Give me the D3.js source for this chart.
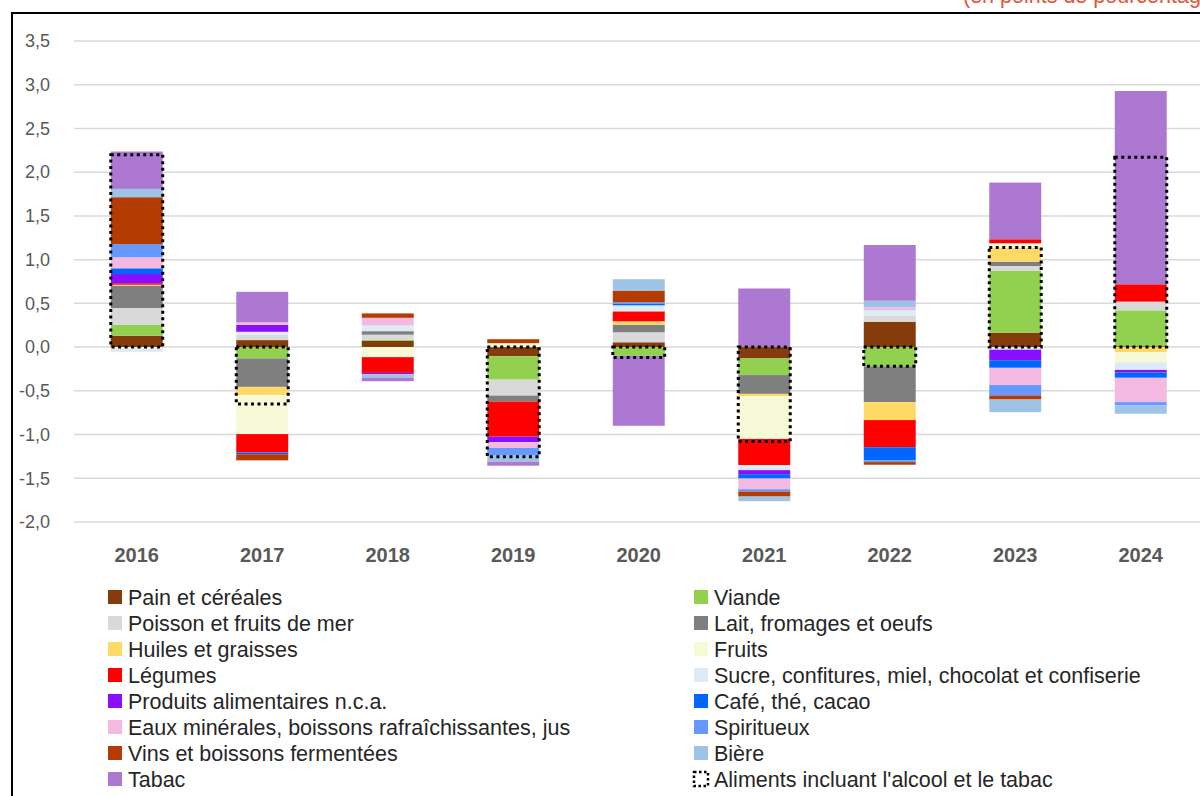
<!DOCTYPE html>
<html><head><meta charset="utf-8">
<script src="https://cdn.jsdelivr.net/npm/d3@7"></script>
<style>
html,body{margin:0;padding:0;background:#fff;}
svg{display:block;font-family:"Liberation Sans",Arial,sans-serif;}
</style></head>
<body>
<svg id="c" width="1200" height="796"></svg>
<script>
const years = ["2016","2017","2018","2019","2020","2021","2022","2023","2024"];
const yTicks = [-2,-1.5,-1,-0.5,0,0.5,1,1.5,2,2.5,3,3.5];
const seriesNames = ["Pain et céréales","Viande","Poisson et fruits de mer","Lait, fromages et oeufs","Huiles et graisses","Fruits","Légumes","Sucre, confitures, miel, chocolat et confiserie","Produits alimentaires n.c.a.","Café, thé, cacao","Eaux minérales, boissons rafraîchissantes, jus","Spiritueux","Vins et boissons fermentées","Bière","Tabac"];
const seriesColors = ["#843C0C","#92D050","#D9D9D9","#7F7F7F","#FFD966","#F7FAD6","#FF0000","#DDEBF7","#8B0FFF","#0066FF","#F4B9E2","#6699FF","#B43C02","#9DC3E6","#AD78D1"];
const pain       = [0.13, 0.08, 0.07, -0.105, 0.055, -0.13, 0.29, 0.165, 0.01];
const viande     = [0.123, -0.13, 0.015, -0.267, -0.10, -0.19, -0.22, 0.705, 0.41];
const poisson    = [0.194, 0.06, 0.057, -0.183, 0.114, 0, 0.068, 0.057, 0.10];
const lait       = [0.256, -0.325, 0.04, -0.069, 0.088, -0.215, -0.41, 0.05, 0];
const huiles     = [0.01, -0.095, 0, 0, 0.038, -0.025, -0.205, 0.16, -0.058];
const fruits     = [-0.02, -0.445, -0.115, 0.045, 0, -0.49, 0, 0.05, -0.115];
const legumes    = [0.017, -0.21, -0.18, -0.40, 0.114, -0.30, -0.31, 0.046, 0.198];
const sucre      = [-0.035, 0.035, 0.065, 0, 0.069, -0.057, 0.065, -0.03, -0.088];
const produits   = [0.106, 0.08, -0.015, -0.064, 0, -0.046, 0, -0.12, -0.03];
const cafe       = [0.065, -0.02, 0, 0, 0.02, -0.05, -0.15, -0.087, -0.06];
const eaux       = [0.126, 0.027, 0.088, -0.066, 0, -0.122, 0.031, -0.197, -0.278];
const spiritueux = [0.149, 0, 0, -0.08, 0.015, -0.027, -0.02, -0.119, -0.038];
const vins       = [0.538, -0.07, 0.05, 0.045, 0.133, -0.057, -0.03, -0.046, 0];
const biere      = [0.095, 0, -0.04, -0.076, 0.13, -0.053, 0.076, -0.145, -0.095];
const tabac      = [0.427, 0.35, -0.04, -0.046, -0.80, 0.67, 0.637, 0.648, 2.21];
const totalName = "Aliments incluant l'alcool et le tabac";
const total      = [2.2, -0.65, 0, -1.255, -0.12, -1.08, -0.22, 1.14, 2.17];

const seriesValues = [pain,viande,poisson,lait,huiles,fruits,legumes,sucre,produits,cafe,eaux,spiritueux,vins,biere,tabac];

const svg = d3.select("#c");
const x = d3.scaleBand().domain(years).range([74, 1203.5]).paddingInner(0.586).paddingOuter(0.293);
const y = d3.scaleLinear().domain([-2, 3.5]).range([522, 41]);

// title fragment (cut off at top in the reference)
svg.append("text").attr("x", 963).attr("y", 3).attr("fill", "#E0573A")
  .attr("font-size", 21.5).text("(en points de pourcentage)");

// border
svg.append("path").attr("d", "M12,796V13H1200").attr("fill","none").attr("stroke","#000").attr("stroke-width",2);

// gridlines
svg.append("g").selectAll("line").data(yTicks).join("line")
  .attr("x1", 74).attr("x2", 1200).attr("y1", d => y(d)).attr("y2", d => y(d))
  .attr("stroke", "#D9D9D9").attr("stroke-width", 1.5);

// y labels
const fmt = v => d3.format(".1f")(v).replace(".", ",").replace("−","-");
svg.append("g").selectAll("text").data(yTicks).join("text")
  .attr("x", 50).attr("y", d => y(d)).attr("dy", "0.35em").attr("text-anchor", "end")
  .attr("fill", "#595959").attr("font-size", 18).text(fmt);

// x labels
svg.append("g").selectAll("text").data(years).join("text")
  .attr("x", d => x(d) + x.bandwidth()/2).attr("y", 555).attr("dy", "0.35em")
  .attr("text-anchor", "middle").attr("fill", "#595959").attr("font-size", 20).attr("font-weight", "bold").text(d => d);

// stacked data
const rows = years.map((yr, i) => {
  const r = {year: yr};
  seriesNames.forEach((n, k) => r[n] = seriesValues[k][i]);
  return r;
});
const stack = d3.stack().keys(seriesNames).order(d3.stackOrderNone).offset(d3.stackOffsetDiverging);
const layers = stack(rows);

svg.append("g").selectAll("g").data(layers).join("g")
  .attr("fill", (d, i) => seriesColors[i])
  .selectAll("rect").data(d => d).join("rect")
  .attr("x", d => x(d.data.year))
  .attr("width", x.bandwidth())
  .attr("y", d => y(Math.max(d[0], d[1])))
  .attr("height", d => Math.abs(y(d[0]) - y(d[1])));

// dotted total boxes
svg.append("g").selectAll("rect").data(years.map((yr,i)=>({year:yr, v: total[i]}))).join("rect")
  .attr("x", d => x(d.year))
  .attr("width", x.bandwidth())
  .attr("y", d => y(Math.max(0, d.v)))
  .attr("height", d => Math.abs(y(0) - y(d.v)))
  .attr("fill", "none").attr("stroke", "#000").attr("stroke-width", 3).attr("stroke-dasharray", "3 3.5");

// legend
const legendItems = seriesNames.map((n,i)=>({name:n, color:seriesColors[i], dotted:false}))
  .concat([{name: totalName, color: "none", dotted: true}]);
const lg = svg.append("g").selectAll("g").data(legendItems).join("g")
  .attr("transform", (d,i) => `translate(${i%2===0 ? 108 : 694},${597 + Math.floor(i/2)*26})`);
lg.append("rect").attr("x", 0).attr("y", -7).attr("width", 14).attr("height", 14)
  .attr("fill", d => d.color)
  .attr("stroke", d => d.dotted ? "#000" : "none")
  .attr("stroke-width", d => d.dotted ? 2.5 : 0)
  .attr("stroke-dasharray", d => d.dotted ? "2.5 2.5" : null);
lg.append("text").attr("x", 20).attr("y", 0).attr("dy", "0.35em")
  .attr("font-size", 21.5).attr("fill", "#262626").text(d => d.name);
</script>
</body></html>
